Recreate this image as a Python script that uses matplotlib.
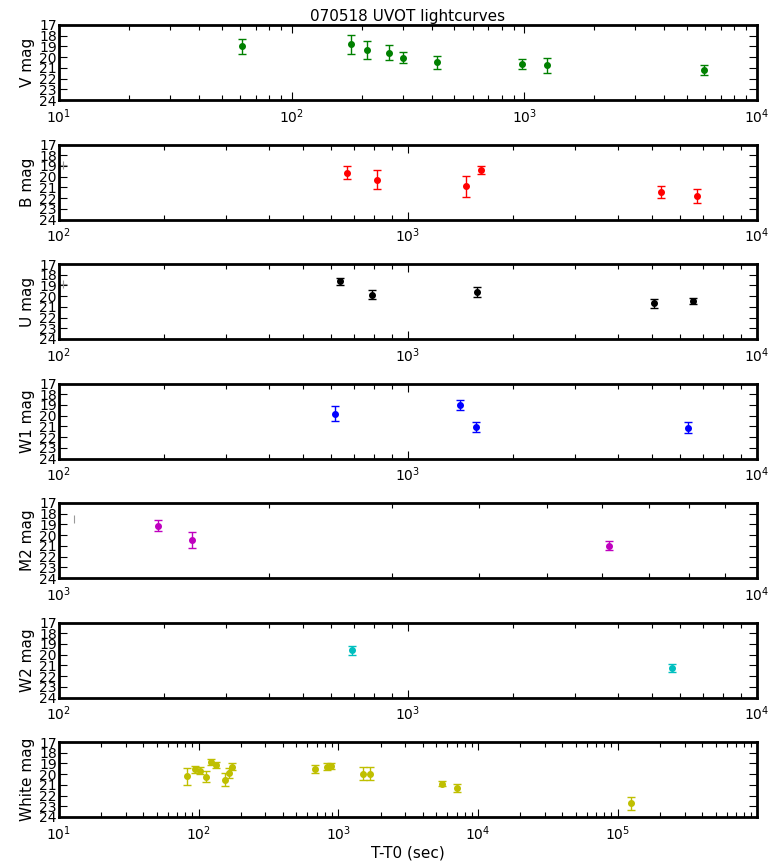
import matplotlib
matplotlib.use("Agg")
import matplotlib.pyplot as plt
from matplotlib.ticker import LogLocator, NullFormatter

# V
vTime = [61, 180, 211, 262, 302, 421, 975, 1256, 5900]
vMag = [18.98, 18.79, 19.31, 19.58, 20.04, 20.50, 20.65, 20.74, 21.20]
vErr = [0.70, 0.88, 0.85, 0.70, 0.50, 0.60, 0.45, 0.70, 0.50]

# B
bTime = [668, 816, 1462, 1617, 5300, 6730]
bMag = [19.63, 20.28, 20.90, 19.38, 21.44, 21.80]
bErr = [0.60, 0.87, 1.00, 0.35, 0.55, 0.65]

# U
uTime = [640, 790, 1580, 5080, 6550]
uMag = [18.63, 19.86, 19.60, 20.67, 20.45]
uErr = [0.35, 0.40, 0.45, 0.40, 0.30]

# W1
w1Time = [617, 1406, 1564, 6330]
w1Mag = [19.80, 19.00, 21.03, 21.12]
w1Err = [0.70, 0.45, 0.45, 0.50]

# M2
m2Time = [1384, 1550, 6140]
m2Mag = [19.10, 20.45, 21.00]
m2Err = [0.50, 0.75, 0.42]

# W2
w2Time = [693, 5720]
w2Mag = [19.60, 21.24]
w2Err = [0.45, 0.38]

# White
whTime = [83, 94, 102, 113.5, 123, 134, 153, 164, 173, 683, 830, 885, 1500, 1670, 5540, 7080, 125000]
whMag = [20.19, 19.56, 19.66, 20.25, 18.88, 19.12, 20.50, 19.90, 19.30, 19.50, 19.30, 19.25, 19.94, 19.94, 20.90, 21.30, 22.70]
whErr = [0.80, 0.30, 0.35, 0.50, 0.25, 0.30, 0.65, 0.45, 0.30, 0.40, 0.30, 0.25, 0.60, 0.60, 0.25, 0.35, 0.60]

# little grey leftovers near the left edge of some panels
strayB = ([103], [18.9])
strayU = ([103], [18.9])
strayM2 = ([1051], [18.5])

labels = ["V mag", "B mag", "U mag", "W1 mag", "M2 mag", "W2 mag", "White mag"]
colors = ["g", "r", "k", "b", "m", "c", "y"]
xLimits = [(10, 1e4), (100, 1e4), (100, 1e4), (100, 1e4), (1e3, 1e4), (100, 1e4), (10, 9.9e5)]
series = [(vTime, vMag, vErr), (bTime, bMag, bErr), (uTime, uMag, uErr),
          (w1Time, w1Mag, w1Err), (m2Time, m2Mag, m2Err), (w2Time, w2Mag, w2Err),
          (whTime, whMag, whErr)]
strays = {1: (strayB, "+"), 2: (strayU, "+"), 4: (strayM2, "|")}

W, H = 774.0, 865.0
fig = plt.figure(figsize=(W / 100, H / 100), dpi=100)

left = 59 / W
width = (757 - 59) / W
panelH = 75
for i in range(7):
    top = 25 + 119.5 * i
    ax = fig.add_axes([left, 1 - (top + panelH) / H, width, panelH / H])
    t, m, e = series[i]
    ax.errorbar(t, m, yerr=e, fmt="o", color=colors[i], ms=4, mec=colors[i],
                elinewidth=1.0, capsize=3, capthick=1.0)
    if i in strays:
        (sx, sy), mk = strays[i]
        ax.plot(sx, sy, linestyle="none", marker=mk, color="0.6", ms=6, mew=0.8)
    ax.set_xscale("log")
    ax.set_xlim(xLimits[i])
    ax.set_ylim(24, 17)
    ax.set_yticks(range(17, 25))
    ax.xaxis.set_minor_locator(LogLocator(base=10, subs=range(2, 10), numticks=20))
    ax.xaxis.set_minor_formatter(NullFormatter())
    ax.set_ylabel(labels[i], fontsize=11, labelpad=3)
    ax.tick_params(axis="both", which="both", direction="in", top=True, right=True)
    ax.tick_params(axis="both", which="major", length=6, width=0.8, labelsize=10)
    ax.tick_params(axis="y", which="major", pad=1.5)
    ax.tick_params(axis="x", which="major", pad=5)
    ax.tick_params(axis="x", which="minor", length=3.5, width=0.8)
    for s in ax.spines.values():
        s.set_linewidth(2)
    if i == 0:
        ax.set_title("070518 UVOT lightcurves", fontsize=11, pad=3)
    if i == 6:
        ax.set_xlabel("T-T0 (sec)", fontsize=11, labelpad=2)

fig.savefig("out.png", dpi=100, facecolor="white")
